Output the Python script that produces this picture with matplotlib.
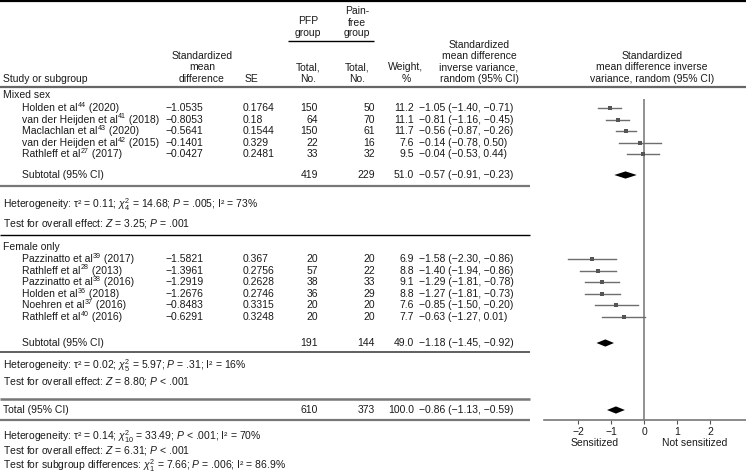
import matplotlib
matplotlib.use("Agg")
import matplotlib.pyplot as plt

plt.rcParams['font.family'] = ['Liberation Sans', 'DejaVu Sans']
plt.rcParams['mathtext.fontset'] = 'custom'
plt.rcParams['mathtext.rm'] = 'Liberation Sans'
plt.rcParams['mathtext.it'] = 'Liberation Sans:italic'
plt.rcParams['mathtext.bf'] = 'Liberation Sans:bold'

# ---------------- data ----------------
mixed_authors = ["Holden et al", "van der Heijden et al", "Maclachlan et al",
                 "van der Heijden et al", "Rathleff et al"]
mixed_refs = ["44", "41", "43", "42", "27"]
mixed_years = ["2020", "2018", "2020", "2015", "2017"]
mixed_smd = [-1.0535, -0.8053, -0.5641, -0.1401, -0.0427]
mixed_se = [0.1764, 0.18, 0.1544, 0.329, 0.2481]
mixed_pfp = [150, 64, 150, 22, 33]
mixed_free = [50, 70, 61, 16, 32]
mixed_w = [11.2, 11.1, 11.7, 7.6, 9.5]
mixed_est = [-1.05, -0.81, -0.56, -0.14, -0.04]
mixed_lo = [-1.40, -1.16, -0.87, -0.78, -0.53]
mixed_hi = [-0.71, -0.45, -0.26, 0.50, 0.44]

fem_authors = ["Pazzinatto et al", "Rathleff et al", "Pazzinatto et al",
               "Holden et al", "Noehren et al", "Rathleff et al"]
fem_refs = ["39", "28", "38", "36", "37", "40"]
fem_years = ["2017", "2013", "2016", "2018", "2016", "2016"]
fem_smd = [-1.5821, -1.3961, -1.2919, -1.2676, -0.8483, -0.6291]
fem_se = [0.367, 0.2756, 0.2628, 0.2746, 0.3315, 0.3248]
fem_pfp = [20, 57, 38, 36, 20, 20]
fem_free = [20, 22, 33, 29, 20, 20]
fem_w = [6.9, 8.8, 9.1, 8.8, 7.6, 7.7]
fem_est = [-1.58, -1.40, -1.29, -1.27, -0.85, -0.63]
fem_lo = [-2.30, -1.94, -1.81, -1.81, -1.50, -1.27]
fem_hi = [-0.86, -0.86, -0.78, -0.73, -0.20, 0.01]

# subtotals: mixed, female, total
sub_pfp = [419, 191, 610]
sub_free = [229, 144, 373]
sub_w = [51.0, 49.0, 100.0]
sub_est = [-0.57, -1.18, -0.86]
sub_lo = [-0.91, -1.45, -1.13]
sub_hi = [-0.23, -0.92, -0.59]

het_mixed = r"Heterogeneity: τ² = 0.11; $\chi^2_4$ = 14.68; $P$ = .005; I² = 73%"
eff_mixed = r"Test for overall effect: $Z$ = 3.25; $P$ = .001"
het_fem = r"Heterogeneity: τ² = 0.02; $\chi^2_5$ = 5.97; $P$ = .31; I² = 16%"
eff_fem = r"Test for overall effect: $Z$ = 8.80; $P$ < .001"
het_tot = r"Heterogeneity: τ² = 0.14; $\chi^2_{10}$ = 33.49; $P$ < .001; I² = 70%"
eff_tot = r"Test for overall effect: $Z$ = 6.31; $P$ < .001"
sub_diff = r"Test for subgroup differences: $\chi^2_1$ = 7.66; $P$ = .006; I² = 86.9%"

xticks = [-2, -1, 0, 1, 2]
xlabels_dir = ["Sensitized", "Not sensitized"]

# ---------------- layout ----------------
W, H = 746, 473
FS = 7.5
TC = '#1a1a1a'
fig = plt.figure(figsize=(W / 100, H / 100), dpi=100)
tab = fig.add_axes([0, 0, 1, 1])
tab.set_xlim(0, W)
tab.set_ylim(H, 0)
tab.axis('off')
renderer = fig.canvas.get_renderer()


def m(v):
    return str(v).replace('-', '\u2212')


def t(x, y, s, ha='left', fs=FS, **kw):
    return tab.text(x, y, s, ha=ha, va='center', fontsize=fs, color=TC, **kw)


def right_edge(txt):
    bb = txt.get_window_extent(renderer)
    return tab.transData.inverted().transform((bb.x1, bb.y0))[0]


def name_text(x, y, author, ref, year):
    t1 = t(x, y, author)
    x1 = right_edge(t1)
    t2 = t(x1 + 0.3, y - 2.6, ref, fs=FS * 0.68)
    x2 = right_edge(t2)
    t(x2, y, " (" + year + ")")


def hline(y, x0, x1, color, lw):
    tab.plot([x0, x1], [y, y], color=color, lw=lw, solid_capstyle='butt')


# header
hline(1, 0, W, 'black', 1.6)
t(308, 20.5, "PFP", ha='center')
t(308, 32.5, "group", ha='center')
t(357, 11.5, "Pain-", ha='center')
t(357, 22.5, "free", ha='center')
t(357, 32.5, "group", ha='center')
hline(41, 288, 374, 'black', 1.0)
t(3, 79, "Study or subgroup")
for i, s in enumerate(["Standardized", "mean", "difference"]):
    t(202, 56 + 11.3 * i, s, ha='center')
t(251, 79, "SE", ha='center')
t(308, 67.5, "Total,", ha='center')
t(308, 79, "No.", ha='center')
t(357, 67.5, "Total,", ha='center')
t(357, 79, "No.", ha='center')
t(406, 67.5, "Weight,", ha='center')
t(406, 79, "%", ha='center')
for i, s in enumerate(["Standardized", "mean difference", "inverse variance,", "random (95% CI)"]):
    t(479, 45 + 11.3 * i, s, ha='center')
for i, s in enumerate(["Standardized", "mean difference inverse", "variance, random (95% CI)"]):
    t(652, 56 + 11.3 * i, s, ha='center')
hline(87, 0, W, '#666666', 1.6)

# forest axes
fx0, fx1 = 544, 746
fy0, fy1 = 99, 420
fax = fig.add_axes([fx0 / W, 1 - fy1 / H, (fx1 - fx0) / W, (fy1 - fy0) / H])
fax.set_xlim(-3.04, 3.08)
fax.set_ylim(fy1, fy0)
fax.patch.set_alpha(0)
for sp in ['top', 'right', 'left']:
    fax.spines[sp].set_visible(False)
fax.spines['bottom'].set_color('#777777')
fax.spines['bottom'].set_linewidth(1.2)
fax.set_yticks([])
fax.set_xticks(xticks)
fax.set_xticklabels([m(v) for v in xticks], fontsize=FS, color=TC)
fax.tick_params(axis='x', length=3, width=0.8, color='#555555', pad=2)
fax.axvline(0, color='#888888', lw=1.3)
fax.text(-1.5, 443, xlabels_dir[0], ha='center', va='center', fontsize=FS, color=TC, clip_on=False)
fax.text(1.53, 443, xlabels_dir[1], ha='center', va='center', fontsize=FS, color=TC, clip_on=False)

X_W = 414
X_CI = 419


def study_rows(y0, authors, refs, years, smd, se, pfp, free, w, est, lo, hi):
    for i in range(len(authors)):
        y = y0 + 11.55 * i
        name_text(22, y, authors[i], refs[i], years[i])
        t(165, y, m(smd[i]))
        t(243, y, m(se[i]))
        t(318, y, str(pfp[i]), ha='right')
        t(375, y, str(free[i]), ha='right')
        t(X_W, y, f"{w[i]:.1f}", ha='right')
        t(X_CI, y, m(f"{est[i]:.2f} ({lo[i]:.2f}, {hi[i]:.2f})"))
        fax.plot([lo[i], hi[i]], [y, y], color='#6e6e6e', lw=1.0, clip_on=False)
        fax.plot([est[i]], [y], marker='s', ms=2.2, color='#555555', mew=0, clip_on=False)


def subtotal(y, k, label, indent=22):
    t(indent, y, label)
    t(318, y, str(sub_pfp[k]), ha='right')
    t(375, y, str(sub_free[k]), ha='right')
    t(X_W, y, f"{sub_w[k]:.1f}", ha='right')
    t(X_CI, y, m(f"{sub_est[k]:.2f} ({sub_lo[k]:.2f}, {sub_hi[k]:.2f})"))
    hh = 3.6
    fax.fill([sub_lo[k], sub_est[k], sub_hi[k], sub_est[k]], [y, y - hh, y, y + hh],
             color='black', lw=0, clip_on=False)


t(3, 95.5, "Mixed sex")
study_rows(108, mixed_authors, mixed_refs, mixed_years, mixed_smd, mixed_se, mixed_pfp,
           mixed_free, mixed_w, mixed_est, mixed_lo, mixed_hi)
subtotal(175, 0, "Subtotal (95% CI)")
hline(186, 0, 530, '#777777', 1.6)
t(3, 204.5, het_mixed)
t(3, 223, eff_mixed)
hline(235, 0, 530, 'black', 1.0)

t(3, 246.5, "Female only")
study_rows(259, fem_authors, fem_refs, fem_years, fem_smd, fem_se, fem_pfp, fem_free,
           fem_w, fem_est, fem_lo, fem_hi)
subtotal(343, 1, "Subtotal (95% CI)")
hline(352, 0, 530, '#444444', 1.2)
t(3, 366, het_fem)
t(3, 381, eff_fem)
hline(399, 0, 530, '#777777', 1.8)
subtotal(410, 2, "Total (95% CI)", indent=3)
hline(420, 0, 530, '#777777', 1.6)
t(3, 437, het_tot)
t(3, 450.5, eff_tot)
t(3, 465.8, sub_diff)

fig.savefig("out.png", dpi=100)
